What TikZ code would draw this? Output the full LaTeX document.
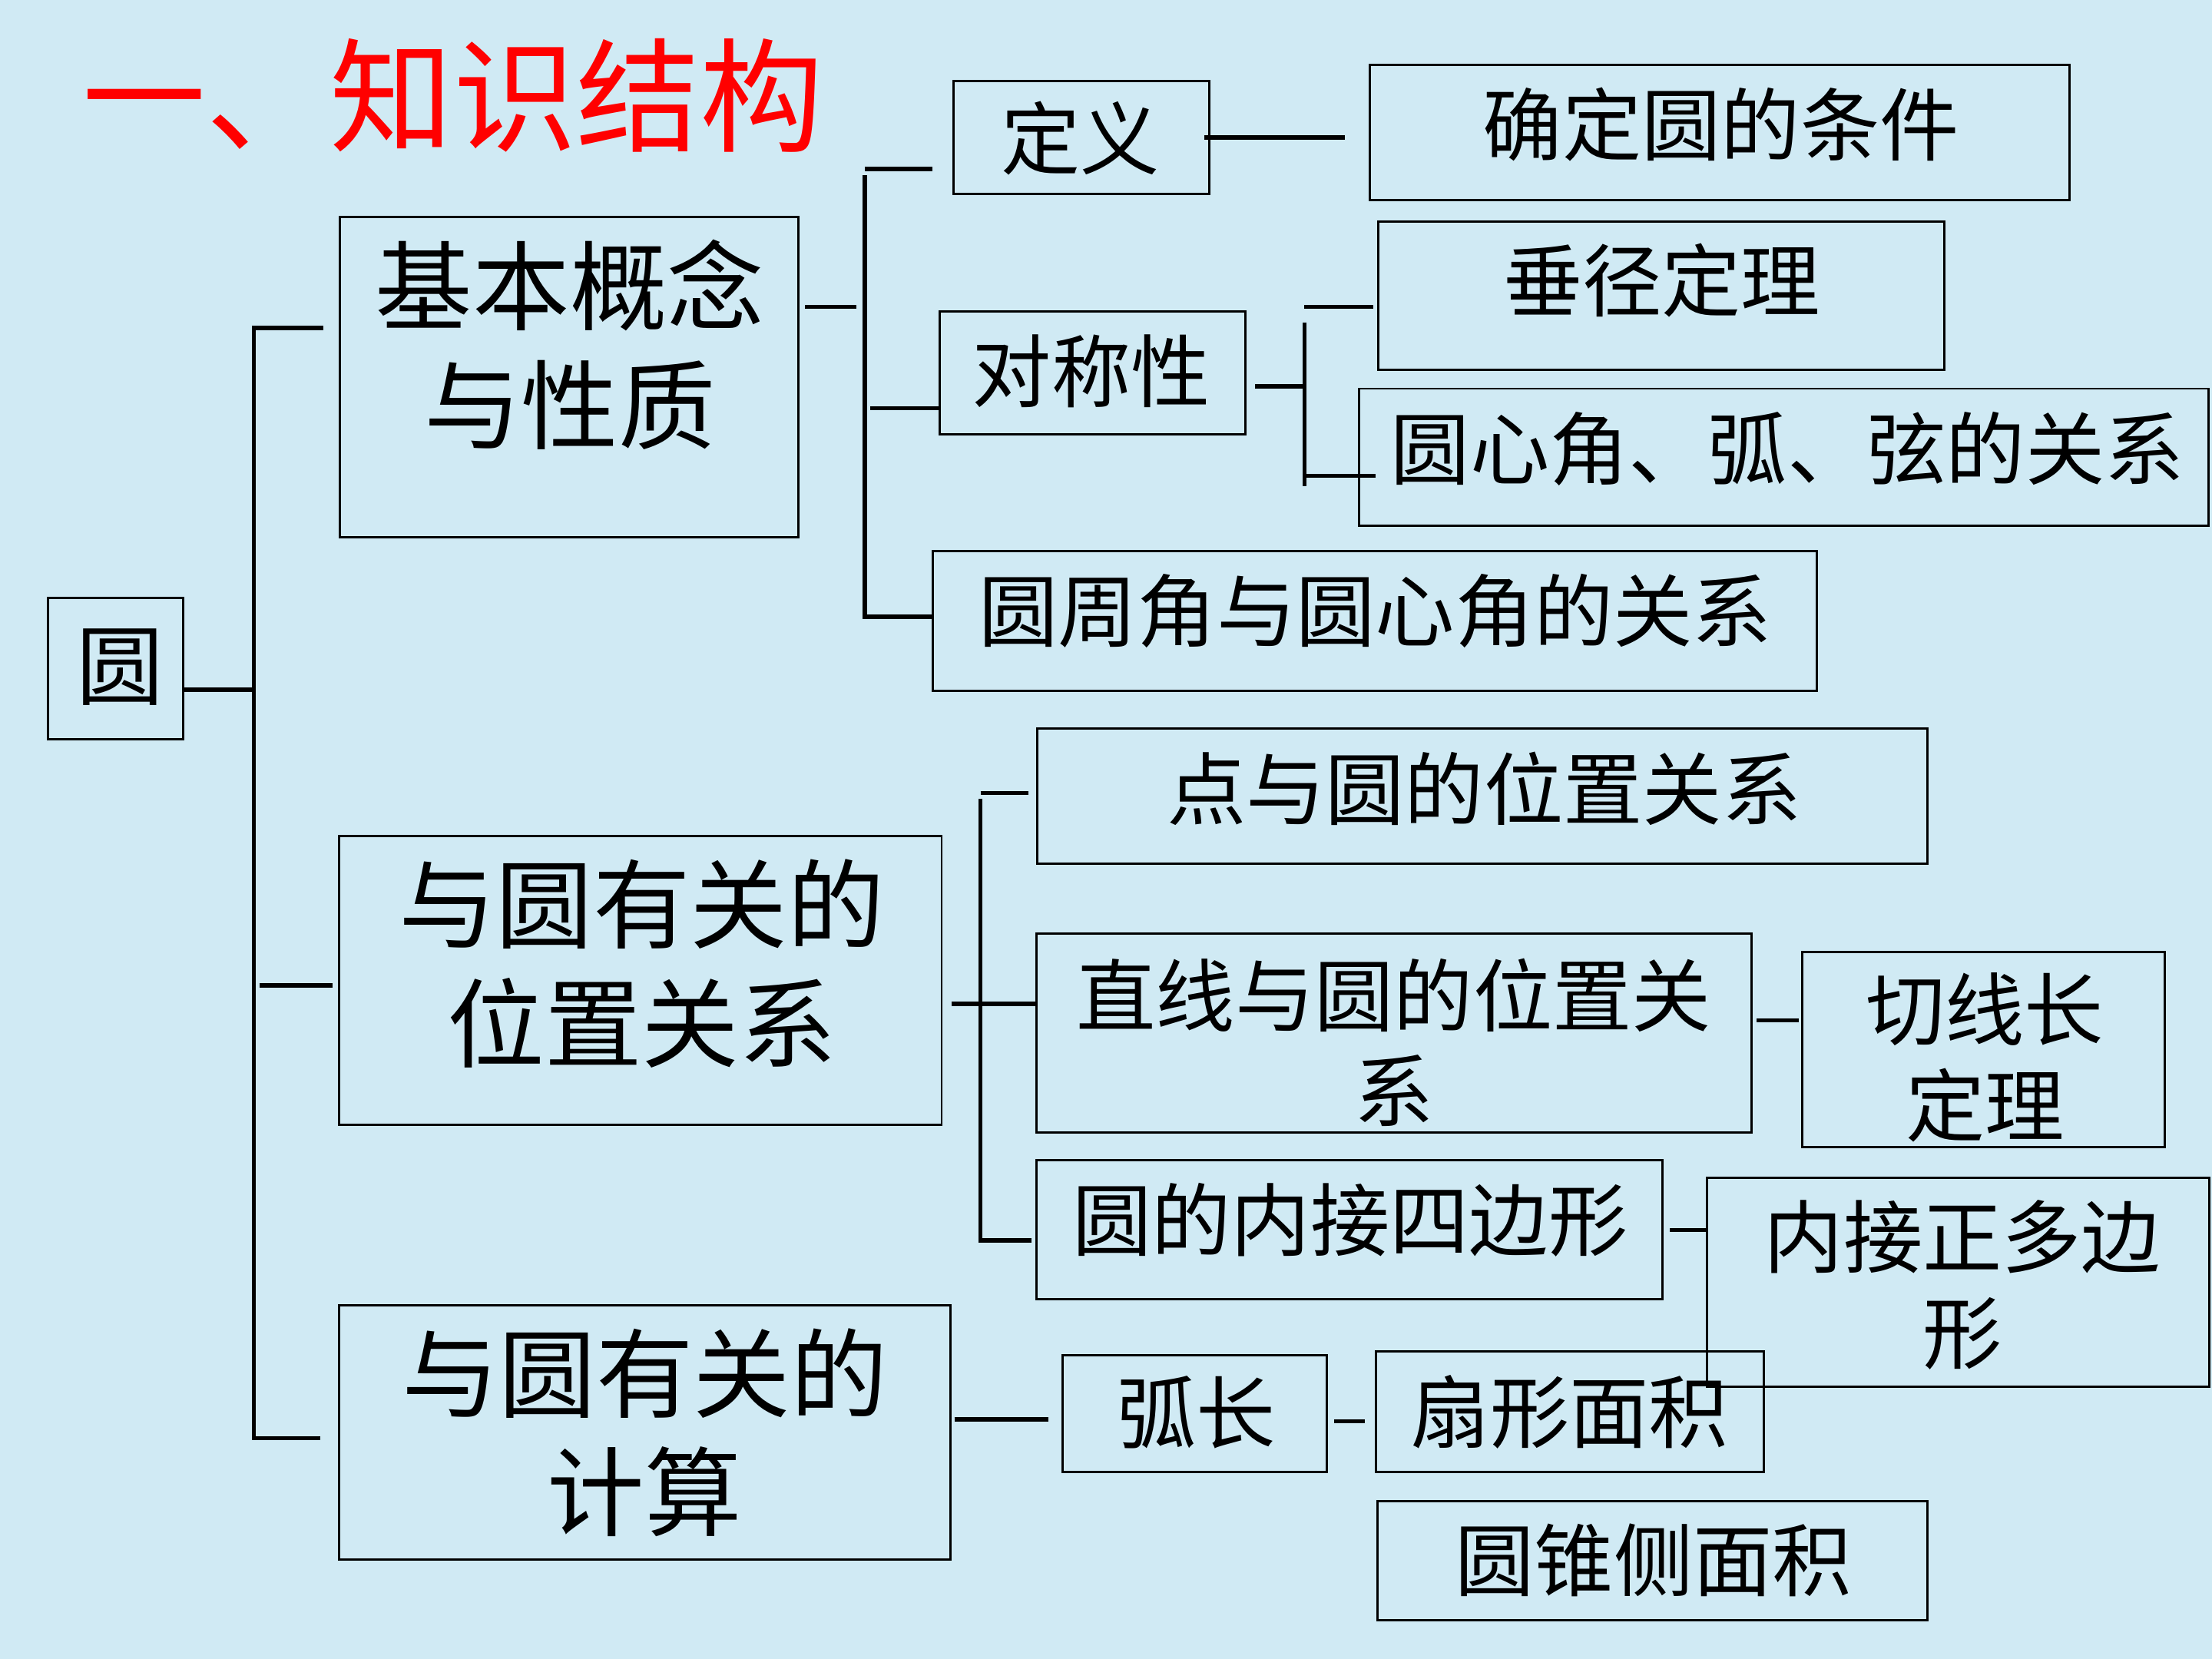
\documentclass[tikz,border=0pt]{standalone}
\usepackage{fontspec}
\setmainfont{Noto Sans CJK SC}
\usepackage{tikz}
\usetikzlibrary{positioning}
\definecolor{bgblue}{RGB}{208,234,244}
\definecolor{titlered}{RGB}{255,0,0}
\tikzset{
  box/.style={draw=black, line width=0.45pt, inner sep=0pt},
  link/.style={draw=black, line width=0.85pt},
  bigtxt/.style={inner sep=0pt, align=center, font=\fontsize{19.6}{24}\selectfont},
  txt/.style={inner sep=0pt, align=center, font=\fontsize{16}{19.35}\selectfont},
}

\begin{document}
\begin{tikzpicture}
    \fill[bgblue] (0,0) rectangle (15.68,-11.76);
    \useasboundingbox (0,0) rectangle (15.68,-11.76);

    \node[anchor=west, inner sep=0pt, text=titlered, font=\fontsize{24.9}{29}\selectfont] (title) at (0.58,-0.675) {一、知识结构};

    \node[box, minimum width=0.96cm, minimum height=1.005cm] (yuan) at (0.82,-4.74) {};
    \node[inner sep=0pt, font=\fontsize{17.6}{20}\selectfont] (yuanT) at (0.85,-4.73) {圆};

    \node[box, minimum width=3.25cm, minimum height=2.27cm] (jiben) at (4.035,-2.675) {};
    \node[bigtxt] (jibenT) at (4.04,-2.445) {基本概念\\与性质};
    \node[box, minimum width=4.27cm, minimum height=2.05cm] (weizhi) at (4.54,-6.95) {};
    \node[bigtxt] (weizhiT) at (4.55,-6.83) {与圆有关的\\位置关系};
    \node[box, minimum width=4.335cm, minimum height=1.80cm] (jisuan) at (4.57,-10.155) {};
    \node[bigtxt] (jisuanT) at (4.57,-10.155) {与圆有关的\\计算};

    \node[box, minimum width=1.81cm, minimum height=0.80cm] (dingyi) at (7.665,-0.975) {};
    \node[txt] (dingyiT) at (7.66,-0.98) {定义};
    \node[box, minimum width=4.96cm, minimum height=0.96cm] (tiaojian) at (12.19,-0.94) {};
    \node[txt] (tiaojianT) at (12.20,-0.88) {确定圆的条件};
    \node[box, minimum width=2.17cm, minimum height=0.87cm] (duichen) at (7.745,-2.645) {};
    \node[txt] (duichenT) at (7.735,-2.63) {对称性};
    \node[box, minimum width=4.01cm, minimum height=1.05cm] (chuijing) at (11.775,-2.095) {};
    \node[txt] (chuijingT) at (11.78,-1.99) {垂径定理};
    \node[box, minimum width=6.02cm, minimum height=0.97cm] (yuanxin) at (12.645,-3.24) {};
    \node[txt] (yuanxinT) at (12.67,-3.18) {圆心角、弧、弦的关系};
    \node[box, minimum width=6.27cm, minimum height=0.99cm] (zhoujiao) at (9.745,-4.40) {};
    \node[txt] (zhoujiaoT) at (9.75,-4.33) {圆周角与圆心角的关系};

    \node[box, minimum width=6.31cm, minimum height=0.96cm] (dian) at (10.51,-5.644) {};
    \node[txt] (dianT) at (10.52,-5.59) {点与圆的位置关系};
    \node[box, minimum width=5.07cm, minimum height=1.41cm] (zhixian) at (9.88,-7.325) {};
    \node[txt] (zhixianT) at (9.88,-7.39) {直线与圆的位置关\\系};
    \node[box, minimum width=2.565cm, minimum height=1.38cm] (qiexian) at (14.06,-7.44) {};
    \node[txt] (qiexianT) at (14.07,-7.495) {切线长\\定理};
    \node[box, minimum width=4.44cm, minimum height=0.985cm] (neijie) at (9.565,-8.718) {};
    \node[txt] (neijieT) at (9.57,-8.65) {圆的内接四边形};
    \node[box, minimum width=3.56cm, minimum height=1.48cm] (zhengduo) at (13.88,-9.09) {};
    \node[txt] (zhengduoT) at (13.91,-9.11) {内接正多边\\形};

    \node[box, minimum width=1.873cm, minimum height=0.83cm] (huchang) at (8.47,-10.02) {};
    \node[txt] (huchangT) at (8.48,-10.01) {弧长};
    \node[box, minimum width=2.75cm, minimum height=0.854cm] (shanxing) at (11.128,-10.007) {};
    \node[txt] (shanxingT) at (11.125,-10.01) {扇形面积};
    \node[box, minimum width=3.90cm, minimum height=0.844cm] (yuanzhui) at (11.715,-11.062) {};
    \node[txt] (yuanzhuiT) at (11.72,-11.06) {圆锥侧面积};

    \coordinate (a0) at (1.80,-4.89);
    \coordinate (a1) at (1.80,-2.325);
    \coordinate (a2) at (1.80,-6.985);
    \coordinate (a3) at (1.80,-10.195);
    \draw[link] (yuan.east |- a0) -- (a0);
    \draw[link, shorten <=0.11cm, shorten >=0.125cm] (jiben.west |- a1) -- (a1) -- (a3) -- (jisuan.west |- a3);
    \draw[link, shorten <=0.04cm, shorten >=0.04cm] (a2) -- (weizhi.west |- a2);

    \coordinate (b0) at (6.13,-2.175);
    \coordinate (b1) at (6.13,-1.198);
    \coordinate (b1t) at (6.13,-1.243);
    \coordinate (b2) at (6.13,-2.895);
    \coordinate (b3) at (6.13,-4.372);
    \draw[link, shorten <=0.04cm, shorten >=0.06cm] (jiben.east |- b0) -- (b0);
    \draw[link, shorten >=0.14cm] (b1) -- (dingyi.west |- b1);
    \draw[link] (b1t) -- (b3) -- (zhoujiao.west |- b3);
    \draw[link, shorten <=0.04cm] (b2) -- (duichen.west |- b2);
    \draw[link, shorten <=-0.04cm, shorten >=0.17cm] (dingyi.east) -- (tiaojian.west |- dingyi.east);

    \coordinate (c0) at (9.246,-2.739);
    \coordinate (c1) at (9.246,-2.175);
    \coordinate (c1t) at (9.246,-2.285);
    \coordinate (c2) at (9.246,-3.374);
    \coordinate (c3) at (9.246,-3.447);
    \draw[link, shorten <=0.06cm] (duichen.east |- c0) -- (c0);
    \draw[link, shorten >=0.025cm] (c1) -- (chuijing.west |- c1);
    \draw[link] (c1t) -- (c3);
    \draw[link, shorten >=-0.125cm] (c2) -- (yuanxin.west |- c2);

    \coordinate (d1) at (6.95,-5.622);
    \coordinate (d1t) at (6.95,-5.66);
    \coordinate (d2) at (6.95,-7.115);
    \coordinate (d3) at (6.95,-8.794);
    \draw[link, shorten <=0.06cm] (weizhi.east |- d2) -- (zhixian.west |- d2);
    \draw[link, shorten >=0.055cm] (d1) -- (dian.west |- d1);
    \draw[link, shorten >=0.025cm] (d1t) -- (d3) -- (neijie.west |- d3);

    \coordinate (e0) at (12.6,-7.232);
    \draw[link, shorten <=0.03cm, shorten >=0.02cm] (zhixian.east |- e0) -- (qiexian.west |- e0);
    \draw[link, shorten <=0.045cm] (neijie.east) -- (zhengduo.west |- neijie.east);

    \coordinate (f0) at (7.1,-10.06);
    \coordinate (f1) at (9.6,-10.076);
    \draw[link, shorten <=0.02cm, shorten >=0.093cm] (jisuan.east |- f0) -- (huchang.west |- f0);
    \draw[link, shorten <=0.043cm, shorten >=0.068cm] (huchang.east |- f1) -- (shanxing.west |- f1);
  \end{tikzpicture}
\end{document}
